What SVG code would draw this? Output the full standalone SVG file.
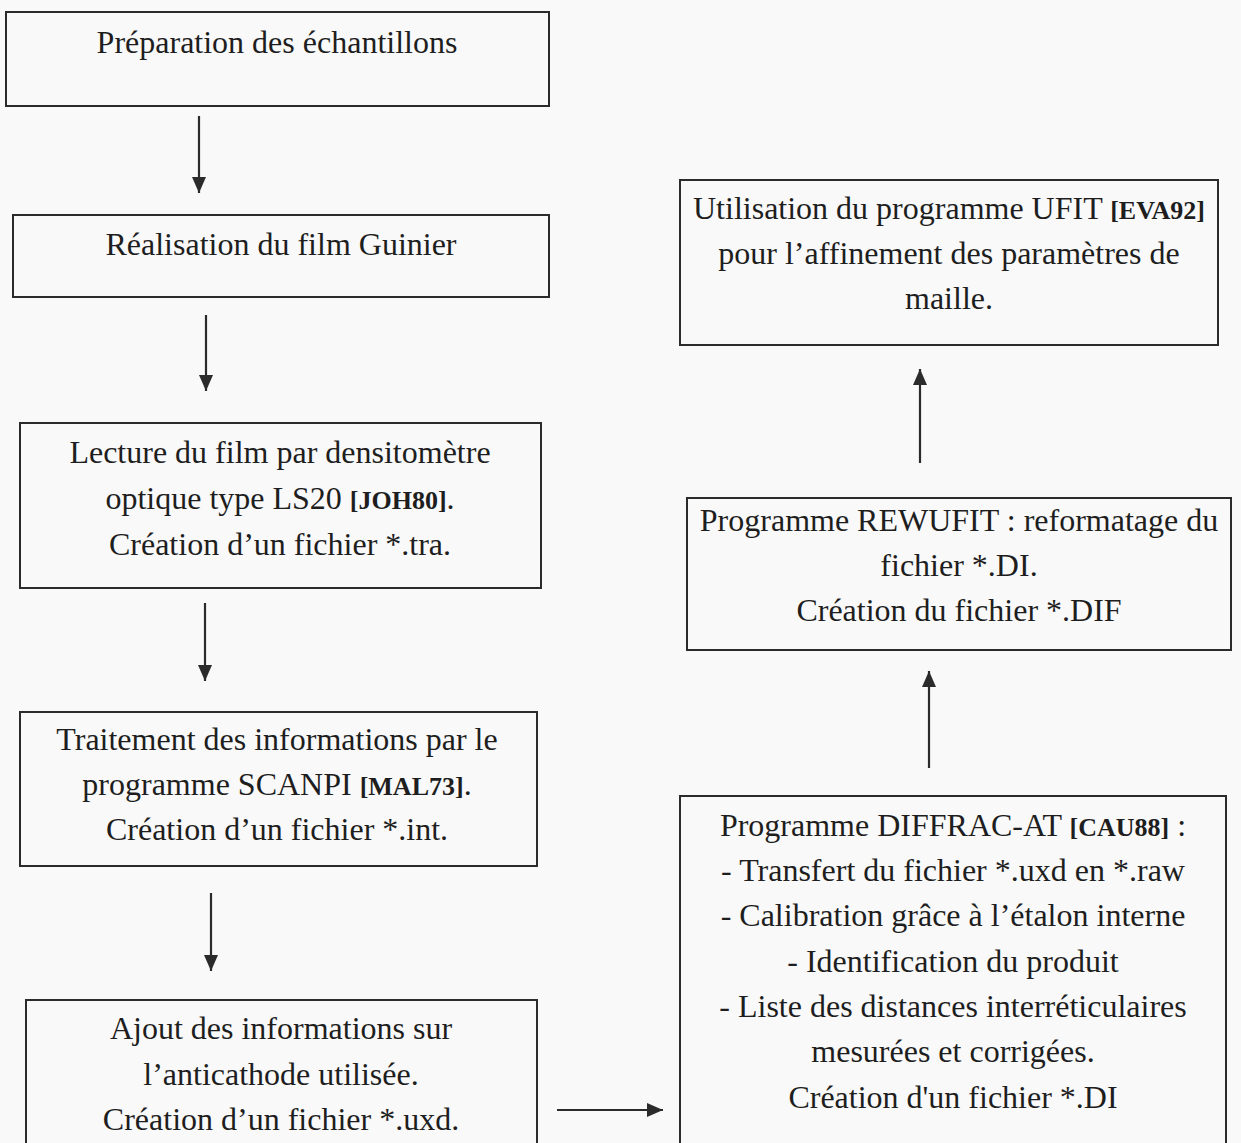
<svg xmlns="http://www.w3.org/2000/svg" width="1241" height="1143" viewBox="0 0 1241 1143">
<defs>
<style>
.box{fill:none;stroke:#2b2b2b;stroke-width:2}
.t{font-family:"Liberation Serif","Times New Roman",serif;font-size:32px;fill:#1e1e1e;text-anchor:middle}
.r{font-weight:bold;font-size:26px}
.c{stroke:#2b2b2b;stroke-width:2.2;fill:none}
</style>
<marker id="ah" viewBox="0 0 10 10" refX="10" refY="5" markerWidth="16" markerHeight="14" markerUnits="userSpaceOnUse" orient="auto" preserveAspectRatio="none">
<path d="M0,0 L10,5 L0,10 z" fill="#2b2b2b"/>
</marker>
</defs>
<rect x="0" y="0" width="1241" height="1143" fill="#f9f9f9"/>
<g id="n1">
<rect class="box" x="6" y="12" width="543" height="94"/>
<text class="t" x="277" y="53">Préparation des échantillons</text>
</g>
<g id="n2">
<rect class="box" x="13" y="215" width="536" height="82"/>
<text class="t" x="281" y="255">Réalisation du film Guinier</text>
</g>
<g id="n3">
<rect class="box" x="20" y="423" width="521" height="165"/>
<text class="t" x="280" y="463">Lecture du film par densitomètre</text>
<text class="t" x="280" y="509">optique type LS20 <tspan class="r">[JOH80]</tspan>.</text>
<text class="t" x="280" y="555">Création d’un fichier *.tra.</text>
</g>
<g id="n4">
<rect class="box" x="20" y="712" width="517" height="154"/>
<text class="t" x="277" y="750">Traitement des informations par le</text>
<text class="t" x="277" y="795">programme SCANPI <tspan class="r">[MAL73]</tspan>.</text>
<text class="t" x="277" y="840">Création d’un fichier *.int.</text>
</g>
<g id="n5">
<rect class="box" x="26" y="1000" width="511" height="160"/>
<text class="t" x="281" y="1039">Ajout des informations sur</text>
<text class="t" x="281" y="1085">l’anticathode utilisée.</text>
<text class="t" x="281" y="1130">Création d’un fichier *.uxd.</text>
</g>
<g id="n6">
<rect class="box" x="680" y="796" width="546" height="370"/>
<text class="t" x="953" y="836">Programme DIFFRAC-AT <tspan class="r">[CAU88]</tspan> :</text>
<text class="t" x="953" y="881">- Transfert du fichier *.uxd en *.raw</text>
<text class="t" x="953" y="926">- Calibration grâce à l’étalon interne</text>
<text class="t" x="953" y="972">- Identification du produit</text>
<text class="t" x="953" y="1017">- Liste des distances interréticulaires</text>
<text class="t" x="953" y="1062">mesurées et corrigées.</text>
<text class="t" x="953" y="1108">Création d'un fichier *.DI</text>
</g>
<g id="n7">
<rect class="box" x="687" y="498" width="544" height="152"/>
<text class="t" x="959" y="531">Programme REWUFIT : reformatage du</text>
<text class="t" x="959" y="576">fichier *.DI.</text>
<text class="t" x="959" y="621">Création du fichier *.DIF</text>
</g>
<g id="n8">
<rect class="box" x="680" y="180" width="538" height="165"/>
<text class="t" x="949" y="219">Utilisation du programme UFIT <tspan class="r">[EVA92]</tspan></text>
<text class="t" x="949" y="264">pour l’affinement des paramètres de</text>
<text class="t" x="949" y="309">maille.</text>
</g>
<g id="connectors">
<line class="c" x1="199" y1="116" x2="199" y2="193" marker-end="url(#ah)"/>
<line class="c" x1="206" y1="315" x2="206" y2="391" marker-end="url(#ah)"/>
<line class="c" x1="205" y1="603" x2="205" y2="681" marker-end="url(#ah)"/>
<line class="c" x1="211" y1="893" x2="211" y2="971" marker-end="url(#ah)"/>
<line class="c" x1="557" y1="1110" x2="663" y2="1110" marker-end="url(#ah)"/>
<line class="c" x1="929" y1="768" x2="929" y2="671" marker-end="url(#ah)"/>
<line class="c" x1="920" y1="463" x2="920" y2="369" marker-end="url(#ah)"/>
</g>
</svg>
